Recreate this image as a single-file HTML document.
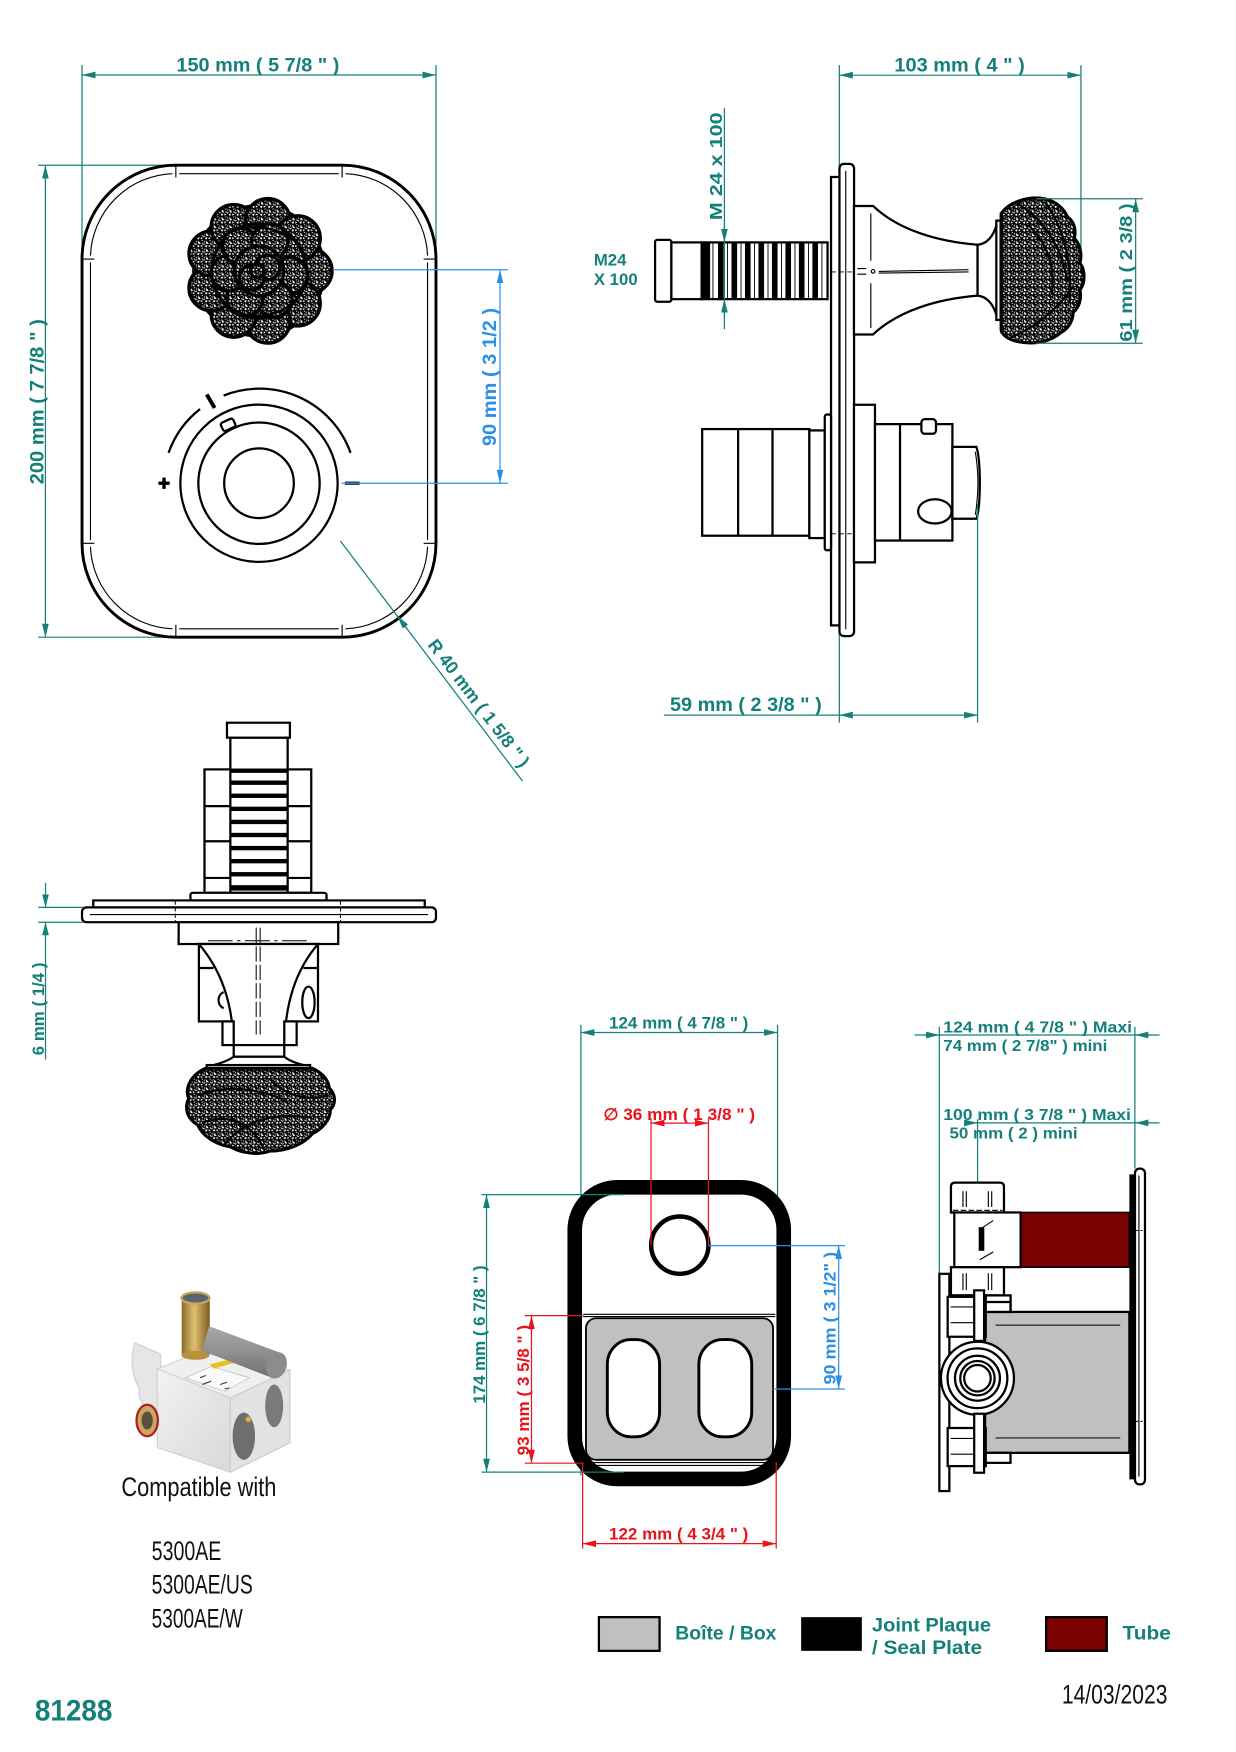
<!DOCTYPE html>
<html><head><meta charset="utf-8">
<style>
html,body{margin:0;padding:0;background:#fff;}
svg{display:block;}
.t{font-family:"Liberation Sans",Arial,sans-serif;font-weight:bold;fill:#14807a;}
.tb{font-family:"Liberation Sans",Arial,sans-serif;font-weight:bold;fill:#2c8fe6;}
.tr{font-family:"Liberation Sans",Arial,sans-serif;font-weight:bold;fill:#e8141b;}
.tn{font-family:"Liberation Sans Narrow","Liberation Sans",Arial,sans-serif;font-weight:normal;fill:#111;}
.dt{stroke:#14807a;stroke-width:1.1;fill:none;}
.db{stroke:#2c8fe6;stroke-width:1.1;fill:none;}
.dr{stroke:#e8141b;stroke-width:1.1;fill:none;}
.k{stroke:#000;stroke-width:2;fill:#fff;}
.kn{stroke:#000;stroke-width:2;fill:none;}
.th{stroke:#000;stroke-width:1;fill:none;}
</style></head><body>
<svg width="1236" height="1752" viewBox="0 0 1100 1559" preserveAspectRatio="none" xmlns="http://www.w3.org/2000/svg">
<defs>
<marker id="mt" viewBox="0 0 12 6" refX="12" refY="3" markerWidth="12" markerHeight="6" markerUnits="userSpaceOnUse" orient="auto-start-reverse"><path d="M0,0L12,3L0,6Z" fill="#14807a"/></marker>
<marker id="mb" viewBox="0 0 12 6" refX="12" refY="3" markerWidth="12" markerHeight="6" markerUnits="userSpaceOnUse" orient="auto-start-reverse"><path d="M0,0L12,3L0,6Z" fill="#2c8fe6"/></marker>
<marker id="mr" viewBox="0 0 12 6" refX="12" refY="3" markerWidth="12" markerHeight="6" markerUnits="userSpaceOnUse" orient="auto-start-reverse"><path d="M0,0L12,3L0,6Z" fill="#e8141b"/></marker>
<pattern id="mesh" patternUnits="userSpaceOnUse" width="7" height="7">
<rect width="7" height="7" fill="#fff"/>
<path d="M0,1 L3.5,0 L7,2 M3.5,0 L2.5,4 L7,2 M2.5,4 L0,3 M2.5,4 L4.5,7 M7,2 L5.5,5.5 L7,7 M0,1 L0,3 M5.5,5.5 L2.5,4 M0,3 L1,7" stroke="#000" stroke-width="1.3" fill="none"/>
</pattern>
<linearGradient id="brass" x1="0" y1="0" x2="1" y2="0"><stop offset="0" stop-color="#8a6a2a"/><stop offset="0.45" stop-color="#e0c070"/><stop offset="1" stop-color="#7a5a20"/></linearGradient>
<linearGradient id="cyl" x1="0" y1="0" x2="0" y2="1"><stop offset="0" stop-color="#a8a8a8"/><stop offset="0.5" stop-color="#909090"/><stop offset="1" stop-color="#707070"/></linearGradient>
<linearGradient id="face" x1="0" y1="0" x2="1" y2="1"><stop offset="0" stop-color="#f2f2f2"/><stop offset="1" stop-color="#d8d8d8"/></linearGradient>
</defs>

<!-- ================= FRONT VIEW (top-left) ================= -->
<line class="dt" x1="73" y1="58" x2="73" y2="232"/>
<line class="dt" x1="388" y1="58" x2="388" y2="232"/>
<line class="dt" x1="73" y1="66.7" x2="388" y2="66.7" marker-start="url(#mt)" marker-end="url(#mt)"/>
<text class="t" x="157" y="63.6" font-size="17" textLength="145" lengthAdjust="spacingAndGlyphs">150 mm ( 5 7/8 &quot; )</text>
<line class="dt" x1="34" y1="147" x2="158" y2="147"/>
<line class="dt" x1="34" y1="567" x2="158" y2="567"/>
<line class="dt" x1="40.4" y1="147" x2="40.4" y2="567" marker-start="url(#mt)" marker-end="url(#mt)"/>
<text class="t" font-size="17" transform="translate(38.5,431) rotate(-90)" textLength="147" lengthAdjust="spacingAndGlyphs">200 mm ( 7 7/8 &quot; )</text>

<rect x="73" y="147" width="315" height="420" rx="83.5" ry="83.5" fill="#fff" stroke="#000" stroke-width="2.6"/>
<g class="th" stroke-width="1.2">
<path d="M159.5,154.5 H301.5 M159.5,559.5 H301.5 M80.5,233.5 V480.5 M380.5,233.5 V480.5"/>
<path d="M80.5,227.5 A76,76 0 0 1 153.5,154.5"/>
<path d="M307.5,154.5 A76,76 0 0 1 380.5,227.5"/>
<path d="M380.5,486.5 A76,76 0 0 1 307.5,559.5"/>
<path d="M153.5,559.5 A76,76 0 0 1 80.5,486.5"/>
<path d="M156.5,146 V158 M304.5,146 V158 M156.5,556 V568 M304.5,556 V568 M72,230.5 H84 M377,230.5 H389 M72,483.5 H84 M377,483.5 H389"/>
</g>

<!-- rose front -->
<g stroke="#000" stroke-width="3" fill="url(#mesh)">
<circle cx="230.5" cy="241" r="58"/>
<circle cx="275.5" cy="241" r="20"/>
<circle cx="265" cy="270" r="20"/>
<circle cx="238.3" cy="285.3" r="20"/>
<circle cx="208" cy="280" r="20"/>
<circle cx="188.2" cy="256.4" r="20"/>
<circle cx="188.2" cy="225.6" r="20"/>
<circle cx="208" cy="202" r="20"/>
<circle cx="238.3" cy="196.7" r="20"/>
<circle cx="265" cy="212" r="20"/>
<circle cx="230.5" cy="241" r="42"/>
<circle cx="258" cy="245" r="16"/>
<circle cx="244" cy="266" r="16"/>
<circle cx="218" cy="265" r="16"/>
<circle cx="204" cy="243" r="16"/>
<circle cx="214" cy="219" r="16"/>
<circle cx="240" cy="215" r="16"/>
<circle cx="230.5" cy="241" r="22"/>
<circle cx="238" cy="238" r="11"/>
<circle cx="224" cy="247" r="11"/>
<circle cx="229" cy="241" r="6"/>
</g>
<path d="M196,212 C210,200 240,198 258,212 M200,270 C215,285 245,285 262,268" class="kn" stroke-width="2.6"/>

<!-- dial -->
<path d="M150,403 A86,86 0 0,1 178,364" class="kn" stroke-width="3.5"/>
<path d="M199,352 A86,86 0 0,1 312,403" class="kn" stroke-width="3.5"/>
<line x1="191" y1="363" x2="184" y2="351" stroke="#000" stroke-width="3.5"/>
<circle cx="230.5" cy="430" r="70" class="kn" stroke-width="2.5"/>
<circle cx="230.5" cy="430" r="54" class="kn" stroke-width="2.5"/>
<circle cx="230.5" cy="430" r="31" class="kn" stroke-width="2.5"/>
<rect x="197" y="374" width="12" height="8" rx="2" transform="rotate(-25 203 378)" class="k" stroke-width="1.8"/>
<path d="M141,430 H151 M146,425 V435" stroke="#000" stroke-width="3"/>
<rect x="307" y="428.5" width="13" height="3" fill="#1b2a4a"/>

<line class="db" x1="296" y1="240" x2="452" y2="240"/>
<line class="db" x1="304" y1="430" x2="452" y2="430"/>
<line class="db" x1="445" y1="240" x2="445" y2="430" marker-start="url(#mb)" marker-end="url(#mb)"/>
<text class="tb" font-size="17" transform="translate(441.5,397) rotate(-90)" textLength="123" lengthAdjust="spacingAndGlyphs">90 mm ( 3 1/2 )</text>

<line class="dt" x1="303" y1="481.5" x2="465" y2="695"/>
<line class="dt" x1="362" y1="559" x2="353.5" y2="548" marker-end="url(#mt)"/>
<text class="t" font-size="16" transform="translate(380,574) rotate(52.8)" textLength="138" lengthAdjust="spacingAndGlyphs">R 40 mm ( 1 5/8 &quot; )</text>

<!-- ================= SIDE VIEW (top-right) ================= -->
<line class="dt" x1="747" y1="58" x2="747" y2="643"/>
<line class="dt" x1="962" y1="58" x2="962" y2="262"/>
<line class="dt" x1="747" y1="66.9" x2="962" y2="66.9" marker-start="url(#mt)" marker-end="url(#mt)"/>
<text class="t" x="796" y="63.8" font-size="17" textLength="116" lengthAdjust="spacingAndGlyphs">103 mm ( 4 &quot; )</text>

<text class="t" x="528.5" y="236.4" font-size="14.5" textLength="29" lengthAdjust="spacingAndGlyphs">M24</text>
<text class="t" x="528.5" y="253.6" font-size="14.5" textLength="39" lengthAdjust="spacingAndGlyphs">X 100</text>

<rect x="583" y="213.5" width="14.5" height="55" rx="2" class="k"/>
<rect x="597.5" y="215.7" width="27" height="50.5" class="k"/>
<rect x="624.5" y="215.7" width="112" height="50.5" class="k"/>
<g fill="#000">
<rect x="625" y="215.7" width="7" height="50.5"/>
<rect x="639" y="215.7" width="5" height="50.5"/>
<rect x="651" y="215.7" width="5" height="50.5"/>
<rect x="663" y="215.7" width="5" height="50.5"/>
<rect x="675" y="215.7" width="5" height="50.5"/>
<rect x="687" y="215.7" width="5" height="50.5"/>
<rect x="699" y="215.7" width="5" height="50.5"/>
<rect x="711" y="215.7" width="5" height="50.5"/>
<rect x="723" y="215.7" width="5" height="50.5"/>
</g>
<g stroke="#000" stroke-width="0.8"><path d="M634.5,215.7V266 M647.5,215.7V266 M659.5,215.7V266 M671.5,215.7V266 M683.5,215.7V266 M695.5,215.7V266 M707.5,215.7V266 M719.5,215.7V266 M731.5,215.7V266"/></g>
<line class="dt" x1="644.7" y1="96" x2="644.7" y2="293"/>
<line class="dt" x1="644.7" y1="200" x2="644.7" y2="215.7" marker-end="url(#mt)"/>
<line class="dt" x1="644.7" y1="282" x2="644.7" y2="266.2" marker-end="url(#mt)"/>
<text class="t" font-size="16" transform="translate(642.5,196) rotate(-90)" textLength="96" lengthAdjust="spacingAndGlyphs">M  24  x 100</text>

<rect x="739.6" y="157.5" width="8.2" height="399" class="k"/>
<rect x="747.1" y="145.8" width="13" height="420.2" rx="4" class="k"/>
<line x1="752.7" y1="152" x2="752.7" y2="560" class="th"/>
<path d="M740,242 H760" stroke="#000" stroke-width="0.8" stroke-dasharray="4 3"/>
<path d="M740,475 H760" stroke="#000" stroke-width="0.8" stroke-dasharray="4 3"/>

<path d="M760,183.3 L777,183.3 C800,205 835,215 870,217.8 L870,263.1 C835,266 800,276 777,297.6 L760,297.6 Z" class="k"/>
<path d="M870,217.8 C879,217 884,210 887,200 L887,281 C884,271 879,264 870,263.1 Z" class="k"/>
<rect x="886.7" y="196.3" width="3.8" height="88.4" class="k" stroke-width="1.6"/>
<path d="M775,190 V232 M775,252 V292 M782,241.5 L862,240 M782,243 L862,242" class="th" stroke-width="0.9"/>
<path d="M763,239 H771 M763,244 H771" class="th" stroke-width="0.9"/>
<circle cx="777" cy="241.5" r="1.6" class="th" stroke-width="0.8"/>
<path d="M891,190 C898,180 915,174 930,177 C940,179 947,186 950,193 C956,197 958,205 956,212 C962,218 963,228 961,234 C966,240 966,252 961,258 C963,266 960,274 955,278 C955,286 950,293 944,296 C935,304 920,307 906,304 C897,302 892,298 891,294 Z" fill="url(#mesh)" stroke="#000" stroke-width="2.8"/>
<g class="kn" stroke-width="2.2">
<path d="M905,181 C928,194 944,218 950,250"/>
<path d="M900,300 C925,290 945,270 955,255"/>
<path d="M915,200 C930,215 940,235 936,262"/>
<path d="M930,180 C945,200 955,230 952,270"/>
</g>

<line class="dt" x1="922" y1="176.9" x2="1017" y2="176.9"/>
<line class="dt" x1="922" y1="305.4" x2="1017" y2="305.4"/>
<line class="dt" x1="1010.7" y1="176.9" x2="1010.7" y2="305.4" marker-start="url(#mt)" marker-end="url(#mt)"/>
<text class="t" font-size="16" transform="translate(1007.5,304) rotate(-90)" textLength="123" lengthAdjust="spacingAndGlyphs">61 mm ( 2 3/8 )</text>

<rect x="624.9" y="381.8" width="95.4" height="94.9" class="k"/>
<line x1="656.9" y1="381.8" x2="656.9" y2="476.7" class="kn"/>
<line x1="687.5" y1="381.8" x2="687.5" y2="476.7" class="kn"/>
<rect x="720.3" y="383" width="13.7" height="95.8" class="k"/>
<rect x="734" y="368.8" width="5.6" height="120.8" rx="2" class="k"/>
<rect x="760" y="360.2" width="18.7" height="140.2" class="k"/>
<rect x="778.7" y="377.4" width="68.9" height="103.6" class="k"/>
<line x1="801" y1="377.4" x2="801" y2="481" class="kn"/>
<path d="M847.6,397.7 H869 C873,410 873,450 869,461.6 H847.6 Z" class="k"/>
<path d="M868,402 C871,420 871,440 868,458" class="th" stroke-width="0.8"/>
<rect x="820" y="373" width="13" height="13" rx="3" class="k"/>
<ellipse cx="832" cy="455" rx="14.9" ry="10.8" class="k"/>

<line class="dt" x1="870" y1="448" x2="870" y2="643"/>
<line class="dt" x1="591" y1="636.3" x2="747" y2="636.3"/>
<line class="dt" x1="747" y1="636.3" x2="870" y2="636.3" marker-start="url(#mt)" marker-end="url(#mt)"/>
<text class="t" x="596.3" y="632.8" font-size="17" textLength="135" lengthAdjust="spacingAndGlyphs">59 mm ( 2 3/8 &quot; )</text>

<!-- ================= TOP VIEW (bottom-left) ================= -->
<g transform="translate(0,647) scale(1,0.97) translate(0,-647)">
<rect x="182" y="685.8" width="95" height="113.2" class="k"/>
<path d="M182,719.5 H205 M182,751.7 H205 M182,785.4 H205 M256,719.5 H277 M256,751.7 H277 M256,785.4 H277" class="kn"/>
<rect x="205" y="656.7" width="51" height="142.3" class="k"/>
<rect x="202" y="643" width="56" height="13.7" class="k"/>
<g fill="#000">
<rect x="205" y="685" width="51" height="4"/>
<rect x="205" y="696" width="51" height="4"/>
<rect x="205" y="708" width="51" height="4"/>
<rect x="205" y="720" width="51" height="4"/>
<rect x="205" y="732" width="51" height="4"/>
<rect x="205" y="744" width="51" height="4"/>
<rect x="205" y="756" width="51" height="4"/>
<rect x="205" y="768" width="51" height="4"/>
<rect x="205" y="780" width="51" height="4"/>
<rect x="205" y="792" width="51" height="5"/>
</g>
<path d="M169.5,806 V801 Q169.5,799 172,799 H288 Q290.6,799 290.6,801 V806 Z" class="k"/>
<rect x="83" y="806" width="295" height="7" class="k"/>
<rect x="73" y="812.4" width="315" height="13.6" rx="4" class="k"/>
<line x1="80" y1="819" x2="381" y2="819" class="th"/>
<path d="M156,806 V826 M303,806 V826" stroke="#000" stroke-width="0.9" stroke-dasharray="4 2"/>
<rect x="159" y="826" width="142" height="20" class="k"/>
<rect x="177" y="846" width="106" height="71" class="k"/>
<path d="M177,868 H190 M270,868 H283" class="kn"/>
<path d="M177,846 C197,870 207,900 208,938.7 L253,938.7 C254,900 263,870 283,846 Z" class="k"/>
<rect x="198" y="917" width="10" height="21.7" class="k"/>
<rect x="253" y="917" width="11" height="21.7" class="k"/>
<rect x="208" y="938.7" width="45" height="10.7" class="k"/>
<path d="M208,949.4 C200,955 190,957 184,958.6 L276,958.6 C270,957 260,955 253,949.4 Z" class="k"/>
<ellipse cx="274.5" cy="899.5" rx="5.5" ry="14.5" class="k"/>
<path d="M199,890 C193,893 193,902 199,905" class="kn"/>
<path d="M228,831 V929 M231.5,831 V929" stroke="#000" stroke-width="0.9" stroke-dasharray="14 3"/>
<path d="M185,843 H276" stroke="#000" stroke-width="0.9" stroke-dasharray="22 4 3 4"/>
<rect x="184" y="957" width="92" height="4" class="k" stroke-width="1.2"/>
<path d="M183,960 L278,960 C286,964 292,970 293,978 C299,984 299,993 294,998 C294,1008 286,1016 278,1020 C270,1030 255,1036 240,1036 C230,1040 215,1038 205,1032 C192,1030 180,1022 176,1012 C166,1006 164,996 168,988 C164,978 170,966 183,960 Z" fill="url(#mesh)" stroke="#000" stroke-width="2.8"/>
<g class="kn" stroke-width="2.2">
<path d="M175,985 C200,975 230,978 255,990 M200,1030 C215,1010 240,1000 275,1005 M180,1010 C205,1000 225,1012 235,1034 M240,970 C255,985 270,990 292,985"/>
</g>
<line class="dt" x1="34" y1="812.4" x2="75" y2="812.4"/>
<line class="dt" x1="34" y1="826" x2="75" y2="826"/>
<line class="dt" x1="40.5" y1="790" x2="40.5" y2="812.4" marker-end="url(#mt)"/>
<line class="dt" x1="40.5" y1="952" x2="40.5" y2="826" marker-end="url(#mt)"/>
<text class="t" font-size="15" transform="translate(39,948) rotate(-90)" textLength="85" lengthAdjust="spacingAndGlyphs">6 mm ( 1/4 )</text>
</g>

<!-- ================= BOX FRONT (bottom-middle) ================= -->
<g transform="translate(0,-5)">
<line class="dt" x1="517" y1="917" x2="517" y2="1318"/>
<line class="dt" x1="692" y1="917" x2="692" y2="1110"/>
<line class="dt" x1="517" y1="923.8" x2="692" y2="923.8" marker-start="url(#mt)" marker-end="url(#mt)"/>
<text class="t" x="542" y="920" font-size="14.5" textLength="124" lengthAdjust="spacingAndGlyphs">124 mm ( 4 7/8 &quot; )</text>

<rect x="511.5" y="1061.5" width="186" height="259.5" rx="38" ry="38" fill="#fff" stroke="#000" stroke-width="13"/>
<path d="M519,1174.5 H690 M519,1176.5 H690" class="th"/>
<rect x="521.5" y="1178" width="166.5" height="126" rx="9" fill="#c0c0c0" stroke="#000" stroke-width="1.6"/>
<path d="M528,1306.5 H682 M528,1309 H682" class="th"/>
<rect x="540.5" y="1197" width="46.5" height="86.5" rx="21" ry="22" fill="#fff" stroke="#000" stroke-width="2.6"/>
<rect x="622" y="1197" width="47" height="86.5" rx="21" ry="22" fill="#fff" stroke="#000" stroke-width="2.6"/>
<circle cx="605" cy="1113" r="25.5" fill="#fff" stroke="#000" stroke-width="4"/>

<line class="dr" x1="579.4" y1="1000" x2="579.4" y2="1113"/>
<line class="dr" x1="630.5" y1="1000" x2="630.5" y2="1113"/>
<line class="dr" x1="579.4" y1="1004.4" x2="630.5" y2="1004.4" marker-start="url(#mr)" marker-end="url(#mr)"/>
<text class="tr" x="537" y="1001.7" font-size="14.5" textLength="135" lengthAdjust="spacingAndGlyphs">∅  36 mm ( 1 3/8 &quot; )</text>
<line class="db" x1="630.5" y1="1113.4" x2="752" y2="1113.4"/>
<line class="db" x1="688" y1="1241" x2="752" y2="1241"/>
<line class="db" x1="746.4" y1="1113.4" x2="746.4" y2="1241" marker-start="url(#mb)" marker-end="url(#mb)"/>
<text class="tb" font-size="14.5" transform="translate(743.5,1237) rotate(-90)" textLength="118" lengthAdjust="spacingAndGlyphs">90 mm ( 3 1/2&quot; )</text>
<line class="dt" x1="428.5" y1="1068" x2="555" y2="1068"/>
<line class="dt" x1="428.5" y1="1315" x2="555" y2="1315"/>
<line class="dt" x1="433" y1="1068" x2="433" y2="1315" marker-start="url(#mt)" marker-end="url(#mt)"/>
<text class="t" font-size="14.5" transform="translate(431.5,1254) rotate(-90)" textLength="123" lengthAdjust="spacingAndGlyphs">174 mm ( 6 7/8 &quot; )</text>
<line class="dr" x1="467" y1="1175.7" x2="519" y2="1175.7"/>
<line class="dr" x1="467" y1="1307" x2="519" y2="1307"/>
<line class="dr" x1="473" y1="1175.7" x2="473" y2="1307" marker-start="url(#mr)" marker-end="url(#mr)"/>
<text class="tr" font-size="14.5" transform="translate(471,1300) rotate(-90)" textLength="116" lengthAdjust="spacingAndGlyphs">93 mm ( 3 5/8 &quot; )</text>
<line class="dr" x1="518.5" y1="1306" x2="518.5" y2="1383"/>
<line class="dr" x1="690.8" y1="1306" x2="690.8" y2="1383"/>
<line class="dr" x1="518.5" y1="1378.6" x2="690.8" y2="1378.6" marker-start="url(#mr)" marker-end="url(#mr)"/>
<text class="tr" x="542" y="1375" font-size="14.5" textLength="124" lengthAdjust="spacingAndGlyphs">122 mm ( 4 3/4 &quot; )</text>
</g>

<!-- ================= BOX SIDE (bottom-right) ================= -->
<g transform="translate(0,-4)">
<line class="dt" x1="836" y1="917.6" x2="836" y2="1330.8"/>
<line class="dt" x1="1010" y1="917.6" x2="1010" y2="1044"/>
<line class="dt" x1="870" y1="1000" x2="870" y2="1056"/>
<line class="dt" x1="814" y1="925" x2="1032" y2="925"/>
<line class="dt" x1="822" y1="925" x2="836" y2="925" marker-end="url(#mt)"/>
<line class="dt" x1="1024" y1="925" x2="1010" y2="925" marker-end="url(#mt)"/>
<line class="dt" x1="858" y1="1003.2" x2="1032" y2="1003.2"/>
<line class="dt" x1="858" y1="1003.2" x2="870" y2="1003.2" marker-end="url(#mt)"/>
<line class="dt" x1="1024" y1="1003.2" x2="1010" y2="1003.2" marker-end="url(#mt)"/>
<text class="t" x="839.5" y="922.6" font-size="14" textLength="168" lengthAdjust="spacingAndGlyphs">124 mm ( 4 7/8 &quot; )  Maxi</text>
<text class="t" x="839.5" y="939.2" font-size="14" textLength="146" lengthAdjust="spacingAndGlyphs">74 mm ( 2 7/8&quot; ) mini</text>
<text class="t" x="839.5" y="1000.8" font-size="14" textLength="167" lengthAdjust="spacingAndGlyphs">100 mm ( 3 7/8 &quot; )  Maxi</text>
<text class="t" x="845" y="1017.1" font-size="14" textLength="114" lengthAdjust="spacingAndGlyphs">50 mm ( 2 ) mini</text>

<rect x="1010.1" y="1043.9" width="8.9" height="281" rx="4" class="k" stroke-width="1.6"/>
<line x1="1013.6" y1="1050" x2="1013.6" y2="1318" class="th" stroke-width="0.8"/>
<rect x="1005.1" y="1049" width="5" height="271.4" fill="#000"/>
<path d="M1011,1099 H1018 M1011,1268.8 H1018" stroke="#000" stroke-width="0.8" stroke-dasharray="2 2"/>
<rect x="908.3" y="1082.9" width="96.8" height="48.7" fill="#7b0000" stroke="#000" stroke-width="1.4"/>
<rect x="876.7" y="1171.4" width="128.4" height="125.4" fill="#c0c0c0" stroke="#000" stroke-width="2"/>
<path d="M886,1183.2 H997 M886,1283.5 H997" stroke="#333" stroke-width="1.2"/>
<path d="M846.3,1082.9 V1060 Q846.3,1056.3 850,1056.3 H890 Q893.5,1056.3 893.5,1060 V1082.9 Z" class="k"/>
<path d="M857,1064 V1078 M860,1064 V1078 M879.6,1064 V1078 M882.6,1064 V1078" class="th"/>
<rect x="849.3" y="1082.9" width="59" height="48.7" class="k"/>
<path d="M848,1081 H892 M848,1133 H892" stroke="#000" stroke-width="1" stroke-dasharray="5 2"/>
<path d="M872,1098 L884,1090 M872,1125 L884,1118" class="th"/>
<rect x="871" y="1096" width="5" height="21" fill="#000"/>
<rect x="846.3" y="1131.6" width="47.2" height="25.1" class="k"/>
<path d="M857,1137 V1152 M860,1137 V1152 M879.6,1137 V1152 M882.6,1137 V1152" class="th"/>
<rect x="843.4" y="1156.7" width="56" height="14.7" class="k" stroke-width="1.6"/>
<rect x="836" y="1137.5" width="8.9" height="193.3" class="k" stroke-width="1.6"/>
<rect x="843.4" y="1158" width="33.9" height="35.5" class="k" stroke-width="1.6"/>
<path d="M846,1167 H866 M846,1181 H866" class="th"/>
<rect x="843.4" y="1274.7" width="33.9" height="33.9" class="k" stroke-width="1.6"/>
<path d="M846,1284 H866 M846,1298 H866" class="th"/>
<rect x="877.3" y="1162.6" width="22" height="8.8" class="k" stroke-width="1.4"/>
<rect x="877.3" y="1296.8" width="22" height="8.9" class="k" stroke-width="1.4"/>
<circle cx="869.9" cy="1230.4" r="32.5" class="k" stroke-width="2"/>
<circle cx="869.9" cy="1230.4" r="26.6" class="kn" stroke-width="2.4"/>
<circle cx="869.9" cy="1230.4" r="20" class="kn" stroke-width="1.6"/>
<circle cx="869.9" cy="1230.4" r="15.3" class="kn" stroke-width="2.4"/>
<circle cx="869.9" cy="1230.4" r="11.8" class="kn" stroke-width="1.4"/>
<rect x="867" y="1152.2" width="8.8" height="45" class="k" stroke-width="1.6"/>
<rect x="867" y="1262" width="8.8" height="52.5" class="k" stroke-width="1.6"/>
</g>

<!-- ================= COMPATIBLE RENDER ================= -->
<g>
<path d="M120,1195 C115,1210 118,1225 124,1236 C122,1246 128,1252 138,1254 L143,1254 L143,1205 Z" fill="#e6e6e6" stroke="#cfcfcf" stroke-width="1"/>
<polygon points="140,1218 178,1203 258,1219 205,1244" fill="#efefef" stroke="#d0d0d0" stroke-width="1"/>
<polygon points="140,1218 205,1244 205,1310 140,1288" fill="url(#face)" stroke="#d0d0d0" stroke-width="1"/>
<polygon points="205,1244 258,1219 258,1284 205,1310" fill="#e2e2e2" stroke="#cccccc" stroke-width="1"/>
<polygon points="165,1226 188,1216 222,1226 200,1238" fill="#fafafa" stroke="#bbb" stroke-width="0.6"/>
<polygon points="187,1214 208,1209 211,1212 190,1218" fill="#e8c020"/>
<path d="M178,1226 l5,-2 M180,1232 l8,-3 M196,1232 l6,-2 M200,1236 l4,-1" stroke="#333" stroke-width="1"/>
<ellipse cx="217" cy="1278" rx="10" ry="21" fill="#6e6e6e"/>
<ellipse cx="244" cy="1251" rx="8" ry="19" fill="#7a7a7a"/>
<circle cx="221" cy="1263" r="2.5" fill="#d8b040"/>
<rect x="161.7" y="1155" width="25" height="50" fill="url(#brass)"/>
<ellipse cx="174" cy="1206" rx="12.5" ry="4" fill="#b89040"/>
<ellipse cx="174" cy="1155" rx="12.5" ry="5" fill="#5a6470" stroke="#c9a850" stroke-width="2"/>
<path d="M186,1180 L250,1204 L242,1226 L180,1202 Z" fill="url(#cyl)"/>
<ellipse cx="246" cy="1215" rx="9" ry="12" fill="#8c8c8c" transform="rotate(20 246 1215)"/>
<ellipse cx="131" cy="1264" rx="9.5" ry="14" fill="#c8a860" stroke="#b02020" stroke-width="2"/>
<ellipse cx="131" cy="1264" rx="5" ry="8" fill="#5a5040"/>
</g>
<text class="tn" x="108" y="1331" font-size="24" textLength="138" lengthAdjust="spacingAndGlyphs">Compatible with</text>
<text class="tn" x="135" y="1388" font-size="24" textLength="62" lengthAdjust="spacingAndGlyphs">5300AE</text>
<text class="tn" x="135" y="1418" font-size="24" textLength="90" lengthAdjust="spacingAndGlyphs">5300AE/US</text>
<text class="tn" x="135" y="1448" font-size="24" textLength="81" lengthAdjust="spacingAndGlyphs">5300AE/W</text>

<text class="t" x="31" y="1531" font-size="26" textLength="69" lengthAdjust="spacingAndGlyphs">81288</text>

<rect x="533" y="1439" width="54" height="30" fill="#c0c0c0" stroke="#000" stroke-width="2"/>
<text class="t" x="601" y="1459" font-size="17" textLength="90" lengthAdjust="spacingAndGlyphs">Boîte / Box</text>
<rect x="713" y="1439" width="54" height="30" fill="#000"/>
<text class="t" x="776" y="1452" font-size="17" textLength="106" lengthAdjust="spacingAndGlyphs">Joint Plaque</text>
<text class="t" x="776" y="1472" font-size="17" textLength="98" lengthAdjust="spacingAndGlyphs">/ Seal Plate</text>
<rect x="931" y="1439" width="54" height="30" fill="#7b0000" stroke="#000" stroke-width="2"/>
<text class="t" x="999" y="1459" font-size="17" textLength="43" lengthAdjust="spacingAndGlyphs">Tube</text>
<text class="tn" x="945" y="1516" font-size="24" textLength="94" lengthAdjust="spacingAndGlyphs">14/03/2023</text>
</svg>
</body></html>
